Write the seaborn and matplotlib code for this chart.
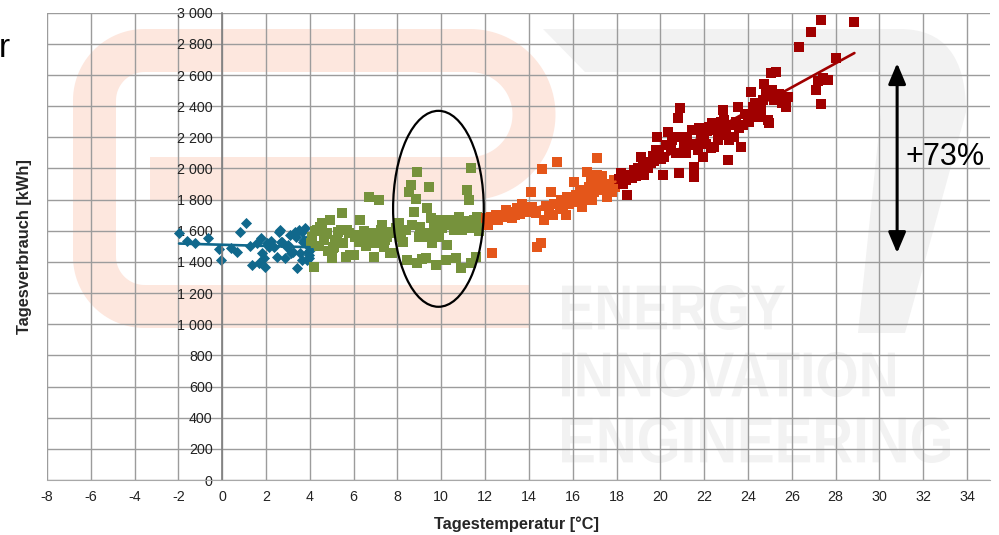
import numpy as np
import pandas as pd
import matplotlib
matplotlib.use("Agg")
import matplotlib.pyplot as plt
import seaborn as sns
from matplotlib.patches import Ellipse, PathPatch
from matplotlib.path import Path
from matplotlib.textpath import TextPath
from matplotlib.font_manager import FontProperties
from matplotlib.transforms import Affine2D
from matplotlib.ticker import FuncFormatter

# ---------------------------------------------------------------------------
# Daily consumption [kWh] versus daily mean temperature [°C], four regimes
# ---------------------------------------------------------------------------
cold_temp = [-1.97, -1.62, -1.23, -0.63, -0.15, -0.05, 0.40, 0.67, 0.80, 1.07,
             1.25, 1.36, 1.60, 1.66, 1.75, 1.81, 1.90, 1.96, 2.05, 2.15,
             2.22, 2.35, 2.50, 2.57, 2.62, 2.66, 2.75, 2.87, 2.97, 3.02,
             3.10, 3.15, 3.25, 3.30, 3.35, 3.42, 3.50, 3.56, 3.63, 3.65,
             3.68, 3.72, 3.78, 3.85, 3.88, 3.93, 3.95, 3.98, 3.99, 3.97]
cold_kwh = [1583, 1533, 1524, 1551, 1480, 1412, 1487, 1465, 1594, 1647,
            1500, 1378, 1519, 1390, 1551, 1455, 1425, 1369, 1519, 1497,
            1535, 1497, 1433, 1593, 1604, 1530, 1529, 1423, 1497, 1508,
            1572, 1455, 1465, 1594, 1562, 1359, 1604, 1455, 1593, 1412,
            1530, 1540, 1615, 1508, 1412, 1465, 1551, 1444, 1476, 1425]

cool_temp = [4.05, 4.10, 4.18, 4.25, 4.33, 4.40, 4.48, 4.56, 4.63, 4.70,
             4.79, 4.85, 4.94, 5.02, 5.05, 5.09, 5.17, 5.24, 5.30, 5.40,
             5.47, 5.52, 5.63, 5.70, 5.78, 5.85, 6.00, 6.08, 6.16, 6.25,
             6.31, 6.39, 6.45, 6.55, 6.69, 6.77, 6.84, 6.92, 7.00, 7.08,
             7.15, 7.23, 7.30, 7.38, 7.45, 7.53, 7.60, 7.68, 7.76, 7.84,
             7.92, 8.06, 8.14, 8.25, 8.37, 8.45, 8.52, 8.60, 8.68, 8.75,
             8.83, 8.87, 8.90, 8.98, 9.05, 9.12, 9.21, 9.28, 9.36, 9.44,
             9.44, 9.51, 9.59, 9.66, 9.74, 9.82, 9.90, 9.97, 10.05, 10.20,
             10.27, 10.35, 10.45, 10.58, 10.66, 10.75, 10.81, 10.88, 10.96, 11.05,
             11.19, 11.27, 11.34, 11.34, 11.42, 11.50, 11.57, 11.65, 11.72, 11.80,
             11.90]
cool_kwh = [1520, 1560, 1369, 1600, 1604, 1500, 1626, 1647, 1540, 1580,
            1583, 1470, 1668, 1422, 1487, 1497, 1540, 1540, 1590, 1604,
            1712, 1520, 1433, 1605, 1583, 1444, 1444, 1561, 1572, 1530,
            1668, 1540, 1600, 1500, 1818, 1583, 1562, 1433, 1519, 1560,
            1797, 1604, 1640, 1497, 1540, 1561, 1590, 1455, 1455, 1583,
            1620, 1647, 1561, 1530, 1604, 1412, 1850, 1893, 1640, 1722,
            1807, 1979, 1390, 1560, 1626, 1420, 1561, 1422, 1743, 1882,
            1583, 1679, 1519, 1640, 1380, 1604, 1560, 1668, 1620, 1412,
            1508, 1668, 1640, 1604, 1422, 1640, 1690, 1358, 1604, 1660,
            1861, 1797, 2000, 1390, 1620, 1668, 1433, 1690, 1600, 1658,
            1640]

mild_temp = [12.05, 12.15, 12.25, 12.33, 12.50, 12.60, 12.71, 12.80, 12.94, 13.05,
             13.15, 13.25, 13.35, 13.47, 13.60, 13.70, 13.80, 13.93, 14.08, 14.16,
             14.25, 14.31, 14.39, 14.54, 14.61, 14.69, 14.80, 14.92, 15.00, 15.08,
             15.15, 15.30, 15.40, 15.45, 15.55, 15.68, 15.76, 15.85, 15.98, 16.06,
             16.15, 16.29, 16.35, 16.44, 16.52, 16.59, 16.67, 16.75, 16.82, 16.90,
             16.97, 17.09, 17.12, 17.20, 17.27, 17.35, 17.42, 17.50, 17.58, 17.65,
             17.73, 17.80, 17.88, 17.95]
mild_kwh = [1680, 1640, 1690, 1455, 1700, 1670, 1701, 1690, 1733, 1700,
            1720, 1679, 1700, 1743, 1710, 1775, 1740, 1722, 1850, 1754,
            1730, 1711, 1498, 1519, 1997, 1669, 1760, 1733, 1850, 1700,
            1775, 2040, 1760, 1797, 1740, 1701, 1818, 1770, 1786, 1915,
            1830, 1797, 1860, 1754, 1820, 1861, 1979, 1880, 1925, 1800,
            1850, 2064, 1957, 1880, 1904, 1950, 1861, 1900, 1818, 1870,
            1893, 1850, 1925, 1880]

hot_temp = [18.10, 18.19, 18.30, 18.42, 18.50, 18.60, 18.70, 18.80, 18.90, 19.00,
            19.11, 19.20, 19.26, 19.35, 19.45, 19.56, 19.65, 19.72, 19.79, 19.87,
            19.95, 20.02, 20.10, 20.17, 20.25, 20.33, 20.41, 20.50, 20.55, 20.63,
            20.70, 20.79, 20.86, 20.91, 21.00, 21.09, 21.15, 21.24, 21.35, 21.45,
            21.55, 21.55, 21.62, 21.70, 21.78, 21.85, 21.93, 22.00, 22.08, 22.15,
            22.23, 22.30, 22.38, 22.46, 22.55, 22.62, 22.69, 22.76, 22.84, 22.92,
            23.00, 23.07, 23.15, 23.25, 23.37, 23.45, 23.53, 23.60, 23.68, 23.76,
            23.85, 23.99, 24.05, 24.14, 24.21, 24.30, 24.37, 24.45, 24.60, 24.68,
            24.75, 24.82, 24.90, 24.97, 25.05, 25.12, 25.20, 25.28, 25.35, 25.43,
            25.55, 25.66, 25.74, 25.81, 26.35, 26.88, 27.10, 27.20, 27.33, 27.33,
            27.41, 27.64, 28.02, 28.86]
hot_kwh = [1930, 1968, 1900, 1925, 1829, 1960, 1940, 1989, 1950, 2000,
           2075, 2010, 1957, 2040, 2000, 2032, 2080, 2050, 2118, 2203,
           2100, 2060, 1957, 2075, 2150, 2235, 2150, 2120, 2180, 2203,
           2100, 2321, 1968, 2385, 2200, 2139, 2100, 2182, 2150, 2250,
           2011, 1947, 2160, 2118, 2260, 2225, 2075, 2200, 2160, 2240,
           2267, 2130, 2289, 2139, 2250, 2180, 2214, 2300, 2374, 2310,
           2250, 2053, 2182, 2280, 2203, 2300, 2396, 2260, 2139, 2278,
           2350, 2331, 2300, 2492, 2396, 2420, 2353, 2330, 2374, 2440,
           2545, 2480, 2310, 2289, 2610, 2503, 2440, 2620, 2460, 2481,
           2420, 2439, 2396, 2460, 2781, 2877, 2503, 2560, 2952, 2417,
           2578, 2567, 2706, 2941]

segments = [
    ("cold", cold_temp, cold_kwh, "#10688c", "D", 32, True),
    ("cool", cool_temp, cool_kwh, "#76923c", "s", 48, False),
    ("mild", mild_temp, mild_kwh, "#e4561a", "s", 46, True),
    ("hot", hot_temp, hot_kwh, "#a00000", "s", 46, True),
]

# ---------------------------------------------------------------------------
sns.set_style("white")
plt.rcParams["font.family"] = ["Liberation Sans", "DejaVu Sans"]
plt.rcParams["axes.unicode_minus"] = False

W, H = 999, 535
fig = plt.figure(figsize=(W / 100, H / 100), dpi=100, facecolor="white")

# Background layer in pixel units carrying the company logo watermark
bg = fig.add_axes([0, 0, 1, 1], zorder=0)
bg.set_xlim(0, W)
bg.set_ylim(H, 0)
bg.axis("off")

peach = "#fde7de"
wm_gray = "#f2f2f2"

# "e" glyph drawn as one thick stroke
pts = [(150, 178.5), (470, 178.5)]
t = np.radians(np.linspace(90, -90, 60))
pts += list(zip(470 + 64 * np.cos(t), 114.5 + 64 * np.sin(t)))
t = np.radians(np.linspace(-90, -180, 30))
pts += list(zip(144.5 + 50 * np.cos(t), 100.5 + 50 * np.sin(t)))
t = np.radians(np.linspace(180, 90, 30))
pts += list(zip(144.5 + 50 * np.cos(t), 256.5 + 50 * np.sin(t)))
pts += [(530, 306.5)]
ex, ey = zip(*pts)
bg.plot(ex, ey, color=peach, lw=43 * 0.72, solid_capstyle="butt",
        solid_joinstyle="round")

# "7" glyph
seven = Path(
    [(543, 29), (900, 29), (966, 29), (966, 112), (905, 333), (858, 333),
     (881, 112), (878, 72), (585, 72), (543, 29)],
    [Path.MOVETO, Path.LINETO, Path.CURVE3, Path.CURVE3, Path.LINETO,
     Path.LINETO, Path.LINETO, Path.LINETO, Path.LINETO, Path.CLOSEPOLY])
bg.add_patch(PathPatch(seven, facecolor=wm_gray, edgecolor="none"))

wm_font = FontProperties(family="Liberation Sans", weight="bold")


def stamp(word, left, top, width, height):
    tp = TextPath((0, 0), word, size=10, prop=wm_font)
    b = tp.get_extents()
    tr = (Affine2D().translate(-b.x0, -b.y1)
          .scale(width / b.width, -height / b.height)
          .translate(left, top))
    bg.add_patch(PathPatch(tr.transform_path(tp), facecolor=wm_gray,
                           edgecolor="none"))


stamp("ENERGY", 562, 285, 223, 45)
stamp("INNOVATION", 562, 352, 333, 45)
stamp("ENGINEERING", 562, 417, 388, 46)

# Slide heading remnant at the upper left edge
bg.text(-1, 57, "r", fontsize=24, color="black", va="baseline", ha="left")

# ---------------------------------------------------------------------------
ax = fig.add_axes([47 / W, 55 / H, 943 / W, 467.3 / H], zorder=1)
ax.set_facecolor("none")

for name, tx, ky, col, mk, size, trend in segments:
    df = pd.DataFrame({"temp": tx, "kwh": ky})
    sns.scatterplot(data=df, x="temp", y="kwh", marker=mk, color=col, s=size,
                    linewidth=0, ax=ax, zorder=2)
    if trend:
        sns.regplot(data=df, x="temp", y="kwh", scatter=False, ci=None,
                    color=col, line_kws={"lw": 1.9, "zorder": 3}, ax=ax)

ax.set_xlim(-8, 35.05)
ax.set_ylim(0, 3000)
ax.set_xticks(np.arange(-8, 35, 2))
ax.set_yticks(np.arange(0, 3001, 200))
ax.yaxis.set_major_formatter(
    FuncFormatter(lambda v, p: f"{int(v):,}".replace(",", " ")))

ax.set_axisbelow(True)
ax.grid(True, color="#9c9c9c", lw=1.0)
for s in ("top", "right"):
    ax.spines[s].set_visible(False)
ax.spines["left"].set_position(("data", 0))
ax.spines["bottom"].set_position(("data", 0))
ax.spines["left"].set_color("#808080")
ax.spines["bottom"].set_color("#a8a8a8")
ax.spines["left"].set_linewidth(1.2)

ax.tick_params(axis="y", direction="out", length=5, width=1, color="#808080",
               pad=2, labelsize=10.3, labelcolor="#222222")
ax.tick_params(axis="x", direction="out", length=3.6, width=1, color="#909090",
               pad=3.5, labelsize=10.3, labelcolor="#222222")

ax.set_xlabel("Tagestemperatur [°C]", fontsize=11.8, fontweight="bold")
ax.set_ylabel("Tagesverbrauch [kWh]", fontsize=11.8, fontweight="bold")
ax.xaxis.set_label_coords((517 - 47) / 943, -(516 - 480) / 467.3)
ax.yaxis.set_label_coords((32 - 47) / 943, 0.5)

# Highlight of the scattered transition days
ax.add_patch(Ellipse((9.87, 1741), 4.14, 1258, fill=False, edgecolor="black",
                     lw=1.6, zorder=4))

# Span of the consumption increase
ax.annotate("", xy=(30.81, 2676), xytext=(30.81, 1457),
            arrowprops=dict(arrowstyle="<|-|>,head_length=0.45,head_width=0.19",
                            color="black", lw=2.2, mutation_scale=28,
                            shrinkA=0, shrinkB=0), zorder=5)
ax.text(31.2, 2073, "+73%", fontsize=22, color="black", va="center",
        ha="left", zorder=5)

fig.savefig("out.png", dpi=100, facecolor="white")
